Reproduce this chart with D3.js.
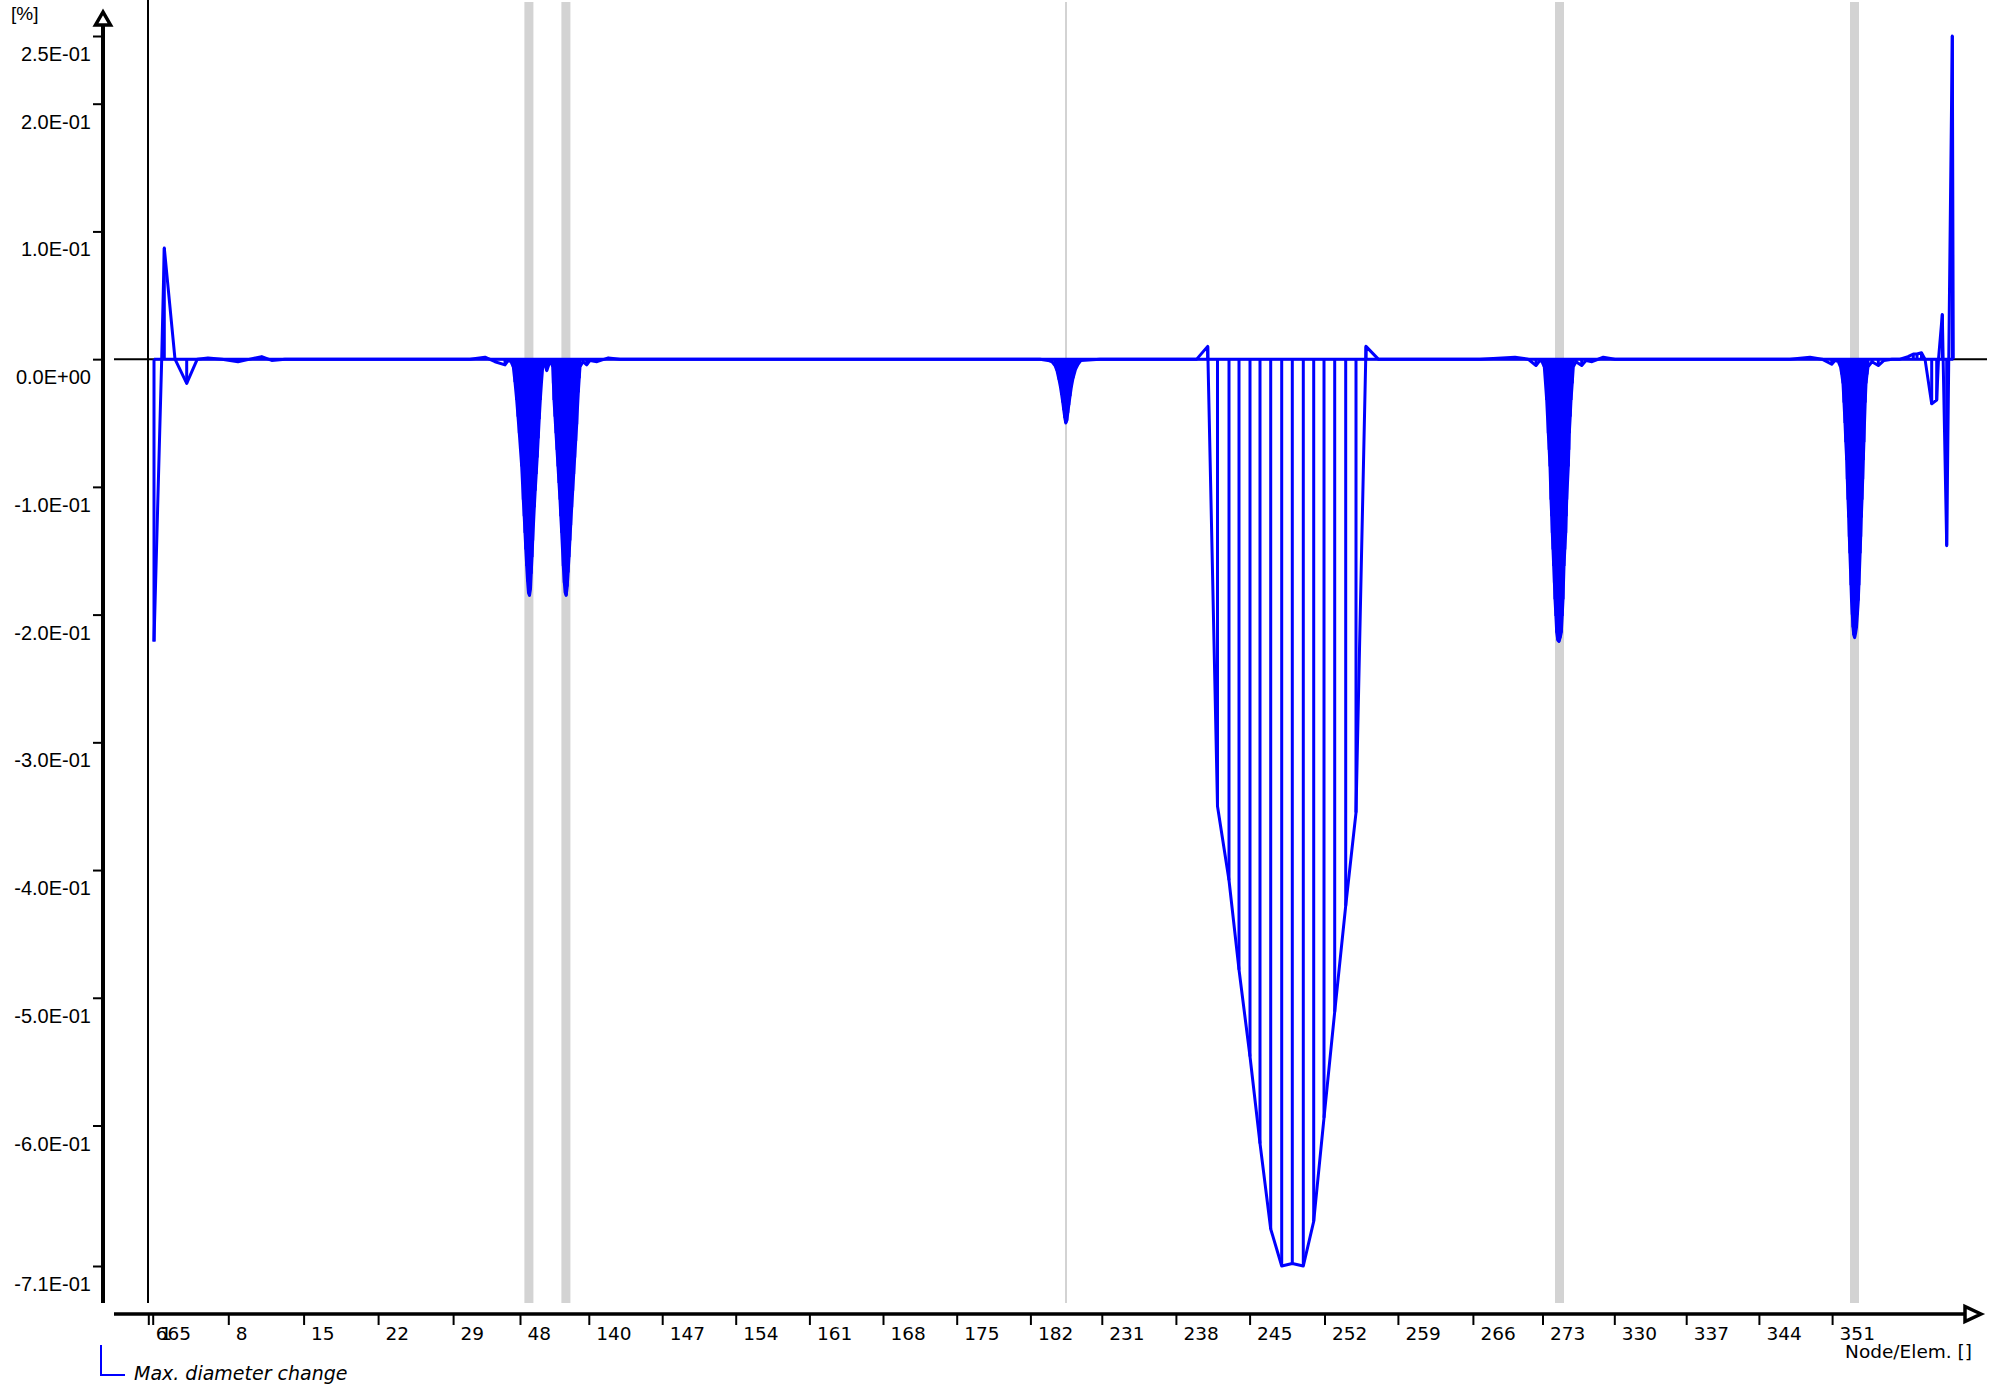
<!DOCTYPE html>
<html>
<head>
<meta charset="utf-8">
<script src="https://cdn.jsdelivr.net/npm/d3@7/dist/d3.min.js"></script>
<style>
  html, body { margin: 0; padding: 0; background: #fff; }
  svg { display: block; }
</style>
</head>
<body>
<svg></svg>
<script>
// station of each result node along the pipe run (0.1 m per unit)
var stations = [
    0.60, 1.37, 1.63, 2.70, 3.87, 4.93, 6.00, 7.40, 9.00, 10.20, 11.37, 12.37, 13.70,
    20.20, 27.20, 32.20, 33.70, 34.70, 35.70, 36.03, 36.30,
    36.53, 36.70, 36.87, 37.00, 37.13, 37.25, 37.37, 37.45, 37.53, 37.62, 37.70, 37.78,
    37.87, 37.96, 38.05, 38.15, 38.25, 38.32, 38.40, 38.47, 38.55, 38.63, 38.72, 38.82,
    38.92, 39.02, 39.12, 39.23, 39.35, 39.47,
    39.65, 39.87, 40.10, 40.30,
    40.47, 40.54, 40.60, 40.70, 40.80, 40.90, 41.00, 41.10, 41.20, 41.28, 41.37, 41.45,
    41.53, 41.63, 41.73, 41.82, 41.92, 42.01, 42.10, 42.19, 42.27, 42.37, 42.47, 42.57,
    42.67, 42.77, 42.87, 42.95, 43.03, 43.12, 43.20,
    43.50, 43.87, 44.20, 44.90, 46.03, 47.20, 55.20, 65.20, 75.20, 85.20, 89.20, 90.00,
    90.40, 90.70, 90.90, 91.10, 91.25, 91.37, 91.48, 91.58, 91.68, 91.78, 91.88, 91.98,
    92.08, 92.20, 92.33, 92.50, 92.75, 93.00, 93.30,
    95.20, 100.20, 103.80, 104.87,
    105.97, 106.95, 108.10, 109.10, 110.20, 111.20, 112.27, 113.37, 114.43, 115.53,
    116.57, 117.60, 118.67, 119.77, 120.80, 121.80, 123.03,
    127.20, 133.20, 136.70, 138.00, 138.80, 139.20, 139.40,
    139.63, 139.75, 139.87, 139.95, 140.03, 140.12, 140.20, 140.25, 140.30, 140.37, 140.43,
    140.50, 140.57, 140.64, 140.70, 140.79, 140.87, 140.98, 141.10, 141.22, 141.33, 141.42,
    141.50, 141.55, 141.60, 141.68, 141.77, 141.82, 141.87, 141.95, 142.03, 142.08, 142.13,
    142.22, 142.30, 142.42, 142.53,
    142.80, 143.37, 143.80, 144.40, 145.53, 146.70, 155.20, 164.20, 166.20, 167.40, 168.37,
    168.70, 169.03,
    169.25, 169.38, 169.50, 169.60, 169.70, 169.78, 169.87, 169.93, 170.00, 170.07, 170.13,
    170.19, 170.25, 170.30, 170.35, 170.43, 170.50, 170.58, 170.66, 170.75, 170.85, 170.94,
    171.03, 171.09, 171.15, 171.21, 171.27, 171.33, 171.40, 171.47, 171.53, 171.59, 171.65,
    171.72, 171.80, 171.90, 172.00,
    172.40, 173.03, 173.60, 174.40, 175.20, 176.00, 176.53, 176.90, 177.35, 177.70,
    178.37, 178.87, 179.05, 179.43, 179.87, 180.43, 180.53
];

// max. diameter change [%] at each node
var diamChange = [
    -0.221, 0.000, 0.087, 0.000, -0.019, 0.000, 0.001, 0.000, -0.002, 0.000, 0.002, -0.001, 0.000,
    0.000, 0.000, 0.000, 0.0015, -0.002, -0.0045, -0.001, -0.002,
    -0.006, -0.018, -0.032, -0.045, -0.058, -0.071, -0.084, -0.097, -0.110, -0.123, -0.136, -0.149,
    -0.162, -0.174, -0.183, -0.185, -0.180, -0.168, -0.155, -0.142, -0.129, -0.116, -0.103, -0.090,
    -0.077, -0.062, -0.047, -0.032, -0.018, -0.006,
    -0.003, -0.009, -0.004, -0.002,
    -0.006, -0.019, -0.032, -0.045, -0.058, -0.071, -0.084, -0.097, -0.110, -0.123, -0.136, -0.149,
    -0.162, -0.175, -0.183, -0.185, -0.178, -0.167, -0.155, -0.142, -0.130, -0.116, -0.103, -0.090,
    -0.077, -0.064, -0.051, -0.038, -0.026, -0.015, -0.006,
    -0.002, -0.0045, -0.001, -0.002, 0.001, 0.000, 0.000, 0.000, 0.000, 0.000, 0.000, -0.001,
    -0.002, -0.005, -0.009, -0.016, -0.022, -0.028, -0.034, -0.040, -0.046, -0.050, -0.048, -0.042,
    -0.036, -0.029, -0.022, -0.015, -0.008, -0.004, -0.001,
    0.000, 0.000, 0.000, 0.000,
    0.010, -0.350, -0.408, -0.478, -0.546, -0.614, -0.681, -0.710, -0.708, -0.710,
    -0.675, -0.594, -0.511, -0.428, -0.355, 0.010, 0.000,
    0.000, 0.000, 0.0015, 0.000, -0.005, -0.001, -0.002,
    -0.006, -0.019, -0.032, -0.045, -0.058, -0.071, -0.084, -0.097, -0.110, -0.123, -0.136,
    -0.149, -0.162, -0.175, -0.188, -0.201, -0.214, -0.220, -0.221, -0.218, -0.214, -0.201,
    -0.188, -0.175, -0.162, -0.149, -0.136, -0.123, -0.110, -0.097, -0.084, -0.071, -0.058,
    -0.045, -0.032, -0.019, -0.006,
    -0.002, -0.005, -0.001, -0.002, 0.0015, 0.000, 0.000, 0.000, 0.0015, 0.000, -0.004,
    -0.001, -0.002,
    -0.006, -0.012, -0.019, -0.034, -0.050, -0.065, -0.079, -0.094, -0.110, -0.124, -0.139,
    -0.152, -0.165, -0.177, -0.189, -0.200, -0.210, -0.216, -0.218, -0.215, -0.210, -0.200,
    -0.189, -0.177, -0.165, -0.152, -0.139, -0.124, -0.110, -0.094, -0.079, -0.065, -0.050,
    -0.034, -0.019, -0.012, -0.006,
    -0.002, -0.005, -0.001, 0.000, 0.000, 0.002, 0.004, 0.004, 0.005, 0.000,
    -0.035, -0.032, 0.000, 0.035, -0.146, 0.253, 0.000
];

// labelled nodes on the x axis (every 7th node)
var tickNodes = ['665', '1', '8', '15', '22', '29', '48', '140', '147', '154', '161', '168',
    '175', '182', '231', '238', '245', '252', '259', '266', '273', '330', '337', '344', '351'];
var tickStations = [0.03, 0.47, 8.03, 15.56, 23.01, 30.51, 37.20, 44.08, 51.42, 58.77, 66.14,
    73.50, 80.87, 88.24, 95.38, 102.79, 110.16, 117.65, 124.99, 132.49, 139.45, 146.63,
    153.82, 161.09, 168.41];

// supports along the run
var supportStations = [38.09, 41.79, 91.80, 141.15, 170.65];
var supportKinds = ['anchor', 'anchor', 'guide', 'anchor', 'anchor'];

var yTicks = [0.253, 0.2, 0.1, 0, -0.1, -0.2, -0.3, -0.4, -0.5, -0.6, -0.71];

var width = 2004,
    height = 1390;

var svg = d3.select('svg')
    .attr('width', width)
    .attr('height', height);

var x = d3.scaleLinear().domain([-3.4, 183.9]).range([114, 1987]);
var y = d3.scaleLinear().domain([-0.71, 0.253]).range([1266, 36]);

var axisX = 103,
    axisY = 1314,
    plotBottom = 1303;

var nodes = stations.map((s, i) => ({s: s, v: diamChange[i]}));

function fmtE(v) {
    if (v === 0) return '0.0E+00';
    var parts = v.toExponential(1).split('e');
    var e = +parts[1];
    return parts[0] + 'E' + (e < 0 ? '-' : '+') + String(Math.abs(e)).padStart(2, '0');
}

// supports (grey bands)
svg.append('g')
    .selectAll('rect')
    .data(supportStations)
    .enter()
    .append('rect')
        .attr('x', (d, i) => x(d) - (supportKinds[i] === 'guide' ? 1 : 4.5))
        .attr('width', (d, i) => supportKinds[i] === 'guide' ? 2 : 9)
        .attr('y', 2)
        .attr('height', plotBottom - 2)
        .attr('fill', '#d3d3d3');

// start node line
svg.append('line')
    .attr('x1', x(0)).attr('x2', x(0))
    .attr('y1', 0).attr('y2', plotBottom)
    .attr('stroke', '#000')
    .attr('stroke-width', 2);

// zero line
svg.append('line')
    .attr('x1', x(-3.4)).attr('x2', x(183.9))
    .attr('y1', y(0)).attr('y2', y(0))
    .attr('stroke', '#000')
    .attr('stroke-width', 2);

var series = svg.append('g')
    .attr('fill', 'none')
    .attr('stroke', '#0000ff')
    .attr('stroke-width', 3);

series.append('line')
    .attr('x1', x(stations[0])).attr('x2', x(stations[stations.length - 1]))
    .attr('y1', y(0)).attr('y2', y(0));

series.selectAll('line.drop')
    .data(nodes)
    .enter()
    .append('line')
        .attr('class', 'drop')
        .attr('x1', (d) => x(d.s))
        .attr('x2', (d) => x(d.s))
        .attr('y1', y(0))
        .attr('y2', (d) => y(d.v));

series.append('path')
    .datum(nodes)
    .attr('stroke-linejoin', 'round')
    .attr('d', d3.line().x((d) => x(d.s)).y((d) => y(d.v)));

// y axis
var gy = svg.append('g')
    .attr('transform', 'translate(' + axisX + ',0)')
    .call(d3.axisLeft(y).tickValues(yTicks).tickFormat(fmtE).tickSize(10));
gy.select('.domain').remove();
gy.selectAll('.tick line').attr('stroke-width', 2);
gy.selectAll('.tick text')
    .attr('x', -12)
    .attr('y', 24.5)
    .attr('dy', null)
    .attr('font-family', '"Liberation Sans", Arial, sans-serif')
    .attr('font-size', 20)
    .attr('fill', '#000');
svg.append('line')
    .attr('x1', axisX).attr('x2', axisX)
    .attr('y1', 24).attr('y2', plotBottom)
    .attr('stroke', '#000')
    .attr('stroke-width', 4);
svg.append('path')
    .attr('d', 'M' + axisX + ',12L' + (axisX - 7.5) + ',25L' + (axisX + 7.5) + ',25Z')
    .attr('fill', '#fff')
    .attr('stroke', '#000')
    .attr('stroke-width', 3.5)
    .attr('stroke-linejoin', 'miter');

// x axis
var gx = svg.append('g')
    .attr('transform', 'translate(0,' + axisY + ')')
    .call(d3.axisBottom(x).tickValues(tickStations).tickFormat((d, i) => tickNodes[i]).tickSize(11));
gx.select('.domain').remove();
gx.selectAll('.tick line').attr('stroke-width', 2);
gx.selectAll('.tick text')
    .attr('x', 7)
    .attr('y', 25.5)
    .attr('dy', null)
    .attr('text-anchor', 'start')
    .attr('font-family', '"DejaVu Sans", sans-serif')
    .attr('font-size', 18.5)
    .attr('fill', '#000');
svg.append('line')
    .attr('x1', 114).attr('x2', 1965)
    .attr('y1', axisY).attr('y2', axisY)
    .attr('stroke', '#000')
    .attr('stroke-width', 3.5);
svg.append('path')
    .attr('d', 'M1981,' + axisY + 'L1965,' + (axisY - 7.5) + 'L1965,' + (axisY + 7.5) + 'Z')
    .attr('fill', '#fff')
    .attr('stroke', '#000')
    .attr('stroke-width', 3.5);

// axis titles
svg.append('text')
    .attr('x', 11).attr('y', 19.5)
    .attr('font-family', '"Liberation Sans", Arial, sans-serif')
    .attr('font-size', 19)
    .text('[%]');
svg.append('text')
    .attr('x', 1972).attr('y', 1357.5)
    .attr('text-anchor', 'end')
    .attr('font-family', '"DejaVu Sans", sans-serif')
    .attr('font-size', 18.5)
    .text('Node/Elem. []');

// legend
var legend = svg.append('g');
legend.append('path')
    .attr('d', 'M101,1345V1375H125')
    .attr('fill', 'none')
    .attr('stroke', '#0000ff')
    .attr('stroke-width', 2);
legend.append('text')
    .attr('x', 134).attr('y', 1380)
    .attr('font-family', '"DejaVu Sans", sans-serif')
    .attr('font-style', 'italic')
    .attr('font-size', 19)
    .text('Max. diameter change');
</script>
</body>
</html>
